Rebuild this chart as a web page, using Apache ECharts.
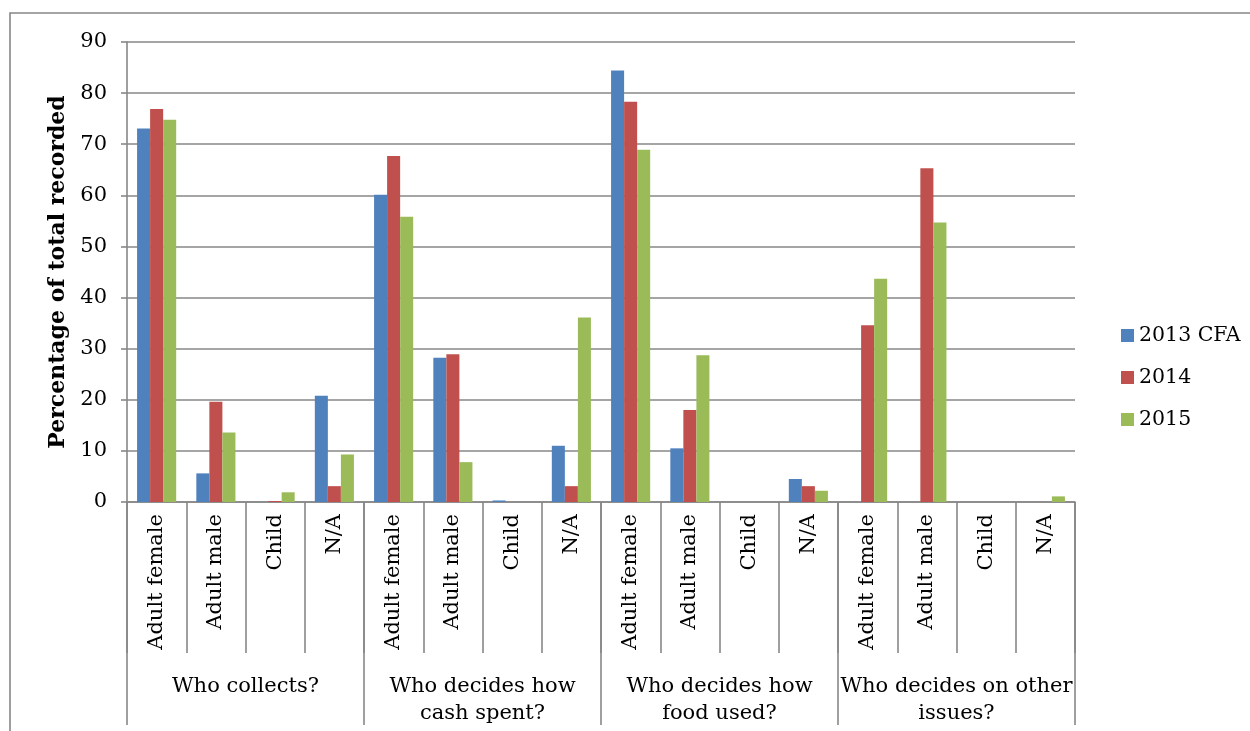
<!DOCTYPE html>
<html>
<head>
<meta charset="utf-8">
<script src="https://cdn.jsdelivr.net/npm/echarts@6/dist/echarts.min.js"></script>
<style>
html,body{margin:0;padding:0;background:#fff;}
#chart{width:1250px;height:731px;}
</style>
</head>
<body>
<div id="chart"></div>
<script>
var subCategories = [
  'Adult female','Adult male','Child','N/A',
  'Adult female','Adult male','Child','N/A',
  'Adult female','Adult male','Child','N/A',
  'Adult female','Adult male','Child','N/A'
];
var groups = [
  'Who collects?',
  'Who decides how\ncash spent?',
  'Who decides how\nfood used?',
  'Who decides on other\nissues?'
];
var seriesNames = ['2013 CFA','2014','2015'];
var s2013 = [73.1, 5.6, 0, 20.8,  60.1, 28.2, 0.3, 11.0,  84.4, 10.5, 0, 4.5,  0, 0, 0, 0];
var s2014 = [76.9, 19.6, 0.2, 3.1,  67.7, 28.9, 0, 3.1,  78.3, 18.0, 0, 3.1,  34.6, 65.3, 0, 0];
var s2015 = [74.8, 13.6, 1.9, 9.3,  55.8, 7.8, 0, 36.1,  68.9, 28.7, 0, 2.2,  43.7, 54.7, 0, 1.1];
var yTicks = [0,10,20,30,40,50,60,70,80,90];
var colors = ['#4F81BD','#C0504D','#9BBB59'];

var FONT = '"DejaVu Serif", Georgia, serif';
var LINE = '#878787';
var LW = 1.6;

var chart = echarts.init(document.getElementById('chart'), null, {renderer:'canvas'});
chart.setOption({
  animation: false,
  backgroundColor: '#fff',
  textStyle: { fontFamily: FONT },
  graphic: [{
    type: 'rect',
    shape: { x: 10, y: 13, width: 1400, height: 900 },
    style: { fill: 'none', stroke: LINE, lineWidth: LW },
    silent: true, z: -1
  }],
  legend: {
    orient: 'vertical',
    left: 1116,
    top: 319,
    itemWidth: 13,
    itemHeight: 13,
    itemGap: 19,
    icon: 'rect',
    textStyle: { fontFamily: FONT, fontSize: 20.5, color: '#000', lineHeight: 23 },
    data: seriesNames
  },
  grid: { left: 127, right: 175, top: 42, bottom: 229, containLabel: false },
  xAxis: [{
    type: 'category',
    data: subCategories,
    position: 'bottom',
    boundaryGap: true,
    axisLine: { show: true, lineStyle: { color: LINE, width: LW } },
    axisTick: { show: true, interval: 0, length: 151, lineStyle: { color: LINE, width: LW } },
    axisLabel: {
      interval: 0, rotate: 90, margin: 12,
      fontFamily: FONT, fontSize: 21, color: '#000'
    },
    splitLine: { show: false }
  }, {
    type: 'category',
    data: groups,
    position: 'bottom',
    offset: 0,
    boundaryGap: true,
    axisLine: { show: false },
    axisTick: { show: true, interval: 0, length: 223, lineStyle: { color: LINE, width: LW } },
    axisLabel: {
      interval: 0, margin: 171,
      fontFamily: FONT, fontSize: 21, color: '#000', lineHeight: 27, align: 'center'
    },
    splitLine: { show: false }
  }],
  yAxis: {
    type: 'value',
    min: 0, max: 90, interval: 10,
    name: 'Percentage of total recorded',
    nameLocation: 'middle',
    nameGap: 55,
    nameTextStyle: { fontFamily: FONT, fontSize: 22, fontWeight: 'bold', color: '#000' },
    axisLine: { show: true, lineStyle: { color: LINE, width: LW } },
    axisTick: { show: true, length: 6, lineStyle: { color: LINE, width: LW } },
    axisLabel: {
      margin: 20, fontFamily: FONT, fontSize: 21, color: '#000',
      formatter: function (v) { return yTicks.indexOf(v) >= 0 ? String(v) : ''; }
    },
    splitLine: { show: true, lineStyle: { color: LINE, width: LW } }
  },
  series: [
    { name: seriesNames[0], type: 'bar', data: s2013, xAxisIndex: 0, barGap: '0%', barCategoryGap: '34%', itemStyle: { color: colors[0] } },
    { name: seriesNames[1], type: 'bar', data: s2014, xAxisIndex: 0, barGap: '0%', barCategoryGap: '34%', itemStyle: { color: colors[1] } },
    { name: seriesNames[2], type: 'bar', data: s2015, xAxisIndex: 0, barGap: '0%', barCategoryGap: '34%', itemStyle: { color: colors[2] } }
  ]
});
</script>
</body>
</html>
